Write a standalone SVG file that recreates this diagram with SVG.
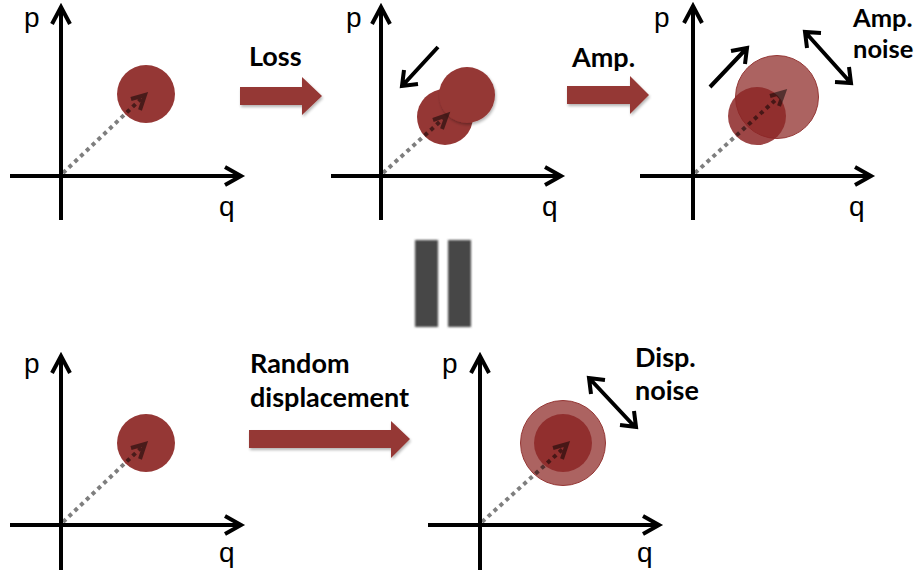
<svg xmlns="http://www.w3.org/2000/svg" width="923" height="579" viewBox="0 0 923 579">
<defs>
<style>
.axis{fill:none;stroke:#000;stroke-width:4;stroke-linecap:butt;stroke-linejoin:miter}
.arr{fill:none;stroke:#000;stroke-width:4;stroke-linejoin:miter}
.lbl{font-family:"Liberation Sans",Arial,sans-serif;font-size:28px;fill:#000}
.bold{font-family:Lato,"Liberation Sans",sans-serif;font-weight:bold;font-size:27px;fill:#000}
.solid{fill:#953735}
.vec{opacity:0.5}
.vec path.d{fill:none;stroke:#000;stroke-width:4;stroke-dasharray:4 4}
.vec path.h{fill:none;stroke:#000;stroke-width:4}
.block{fill:#953735;filter:url(#sh)}
.eq{fill:#464646;filter:url(#blur)}
</style>
<filter id="sh" x="-10%" y="-20%" width="130%" height="160%">
<feGaussianBlur in="SourceAlpha" stdDeviation="1.5"/>
<feOffset dx="1" dy="2" result="b"/>
<feComponentTransfer><feFuncA type="linear" slope="0.3"/></feComponentTransfer>
<feMerge><feMergeNode/><feMergeNode in="SourceGraphic"/></feMerge>
</filter>
<filter id="blur"><feGaussianBlur stdDeviation="0.8"/></filter>
</defs>

<g id="panel-1">
<path class="axis" d="M61,220 V7 M52,24 L61,7 L70,24"/>
<path class="axis" d="M10,176 H241 M225,167 L241,176 L225,185"/>
<text class="lbl" x="24" y="27">p</text>
<text class="lbl" x="219" y="216">q</text>
<circle class="solid" cx="146" cy="94" r="29"/>
<g class="vec"><path class="d" d="M63,173 L142,98"/><path class="h" d="M131,99 L145,95 L140,110"/></g>
</g>

<g id="panel-2">
<path class="axis" d="M381,220 V7 M372,24 L381,7 L390,24"/>
<path class="axis" d="M331,176 H561 M545,167 L561,176 L545,185"/>
<text class="lbl" x="346" y="27">p</text>
<text class="lbl" x="542" y="216">q</text>
<circle class="solid" cx="445" cy="117" r="28"/>
<circle class="solid" cx="467" cy="95" r="28" style="filter:url(#sh)"/>
<g class="vec"><path class="d" d="M383,173 L444,118"/><path class="h" d="M433,120 L447,115 L442,129"/></g>
<path class="arr" d="M438,47 L403,85 M404,70 L402,86 L418,84"/>
</g>

<g id="panel-3">
<path class="axis" d="M693,220 V6 M684,23 L693,6 L702,23"/>
<path class="axis" d="M640,176 H871 M855,167 L871,176 L855,185"/>
<text class="lbl" x="654" y="27">p</text>
<text class="lbl" x="849" y="216">q</text>
<circle cx="777" cy="97" r="41.5" fill="#953735" fill-opacity="0.78" stroke="#953735" stroke-width="1"/>
<circle cx="757" cy="116" r="29" fill="#8c2626" fill-opacity="0.85"/>
<g class="vec"><path class="d" d="M695,173 L781,95"/><path class="h" d="M770,96 L784,92 L779,106"/></g>
<path class="arr" d="M710,87 L746,49 M731,51 L747,48 L745,64"/>
<path class="arr" d="M806,33 L850,82 M807,48 L805,32 L821,33 M849,67 L851,83 L835,82"/>
</g>

<g id="panel-4">
<path class="axis" d="M61,570 V356 M52,373 L61,356 L70,373"/>
<path class="axis" d="M10,525 H241 M225,516 L241,525 L225,534"/>
<text class="lbl" x="24" y="373">p</text>
<text class="lbl" x="219" y="562">q</text>
<circle class="solid" cx="146" cy="443" r="29"/>
<g class="vec"><path class="d" d="M63,522 L142,447"/><path class="h" d="M131,448 L145,444 L140,459"/></g>
</g>

<g id="panel-5">
<path class="axis" d="M480,570 V356 M471,373 L480,356 L489,373"/>
<path class="axis" d="M428,525 H659 M643,516 L659,525 L643,534"/>
<text class="lbl" x="442" y="373">p</text>
<text class="lbl" x="637" y="562">q</text>
<circle cx="563" cy="443" r="42.5" fill="#953735" fill-opacity="0.78" stroke="#953735" stroke-width="1"/>
<circle cx="563" cy="443" r="29" fill="#8c2626" fill-opacity="0.85"/>
<g class="vec"><path class="d" d="M482,522 L565,447"/><path class="h" d="M553,448 L567,444 L562,459"/></g>
<path class="arr" d="M590,379 L635,427 M591,394 L589,378 L605,380 M634,411 L636,427 L620,425"/>
</g>

<g id="connectors">
<g id="loss">
<path class="block" d="M240,87 H302 V77 L322,96 L302,115 V105 H240 Z"/>
<text class="bold" x="249" y="66">Loss</text>
</g>
<g id="amp">
<path class="block" d="M567,86 H630 V76 L649,95 L630,114 V104 H567 Z"/>
<text class="bold" x="572" y="67">Amp.</text>
</g>
<g id="displacement">
<path class="block" d="M249,430 H391 V421 L410,439 L391,458 V448 H249 Z"/>
<text class="bold" x="250" y="373">Random</text>
<text class="bold" x="250" y="407">displacement</text>
</g>
<g id="equals">
<rect class="eq" x="415" y="240" width="23" height="87"/>
<rect class="eq" x="448" y="240" width="23" height="87"/>
</g>
</g>

<g id="amp-noise-label">
<text class="bold" x="853" y="27" style="font-size:25.5px">Amp.</text>
<text class="bold" x="853" y="58" style="font-size:25.5px">noise</text>
</g>
<g id="disp-noise-label">
<text class="bold" x="635" y="367">Disp.</text>
<text class="bold" x="635" y="400">noise</text>
</g>
</svg>
